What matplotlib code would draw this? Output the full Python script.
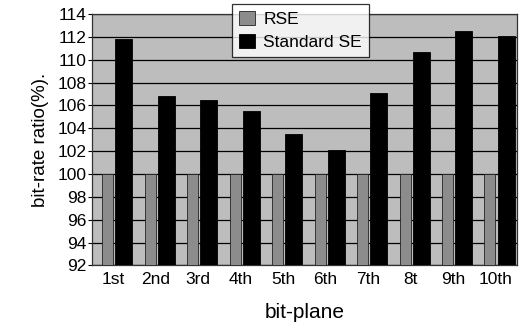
import matplotlib
matplotlib.use("Agg")
import matplotlib.pyplot as plt
import numpy as np

plt.rcParams['font.family'] = ['Liberation Sans', 'DejaVu Sans']

categories = ["1st", "2nd", "3rd", "4th", "5th", "6th", "7th", "8t", "9th", "10th"]
rse = [100, 100, 100, 100, 100, 100, 100, 100, 100, 100]
standard_se = [111.8, 106.8, 106.5, 105.5, 103.5, 102.1, 107.1, 110.7, 112.5, 112.1]
yticks = list(range(92, 115, 2))

fig = plt.figure(figsize=(5.23, 3.31), dpi=100)
ax = fig.add_axes([0.176, 0.198, 0.812, 0.76])

x = np.arange(len(categories))
ax.set_facecolor('#bdbdbd')
ax.bar(x - 0.13, [v - 92 for v in rse], bottom=92, width=0.26,
       color='#8c8c8c', edgecolor='#222222', linewidth=0.6, label='RSE', zorder=3)
ax.bar(x + 0.25, [v - 92 for v in standard_se], bottom=92, width=0.4,
       color='black', edgecolor='black', linewidth=0.6, label='Standard SE', zorder=3)

ax.set_ylim(92, 114)
ax.set_xlim(-0.5, len(categories) - 0.5)
ax.set_yticks(yticks)
ax.set_yticklabels([str(t) for t in yticks], fontsize=12.5)
ax.set_xticks(x)
ax.set_xticklabels(categories, fontsize=12.5)
ax.tick_params(axis='x', length=0, pad=5)
ax.tick_params(axis='y', length=3, pad=1)
ax.grid(axis='y', color='black', linewidth=0.9, zorder=1)
for s in ax.spines.values():
    s.set_color('#333333')
    s.set_linewidth(0.9)

ax.set_ylabel('bit-rate ratio(%).', fontsize=13.5, labelpad=6)
ax.set_xlabel('bit-plane', fontsize=15, labelpad=11)

leg = ax.legend(loc='upper left', bbox_to_anchor=(0.33, 1.04), fontsize=12.5,
                frameon=True, fancybox=False, edgecolor='black',
                handlelength=0.9, handleheight=0.9, handletextpad=0.5,
                borderpad=0.4, labelspacing=0.4, borderaxespad=0)
leg.get_frame().set_linewidth(0.9)
leg.set_zorder(5)

fig.savefig('out.png', dpi=100)
